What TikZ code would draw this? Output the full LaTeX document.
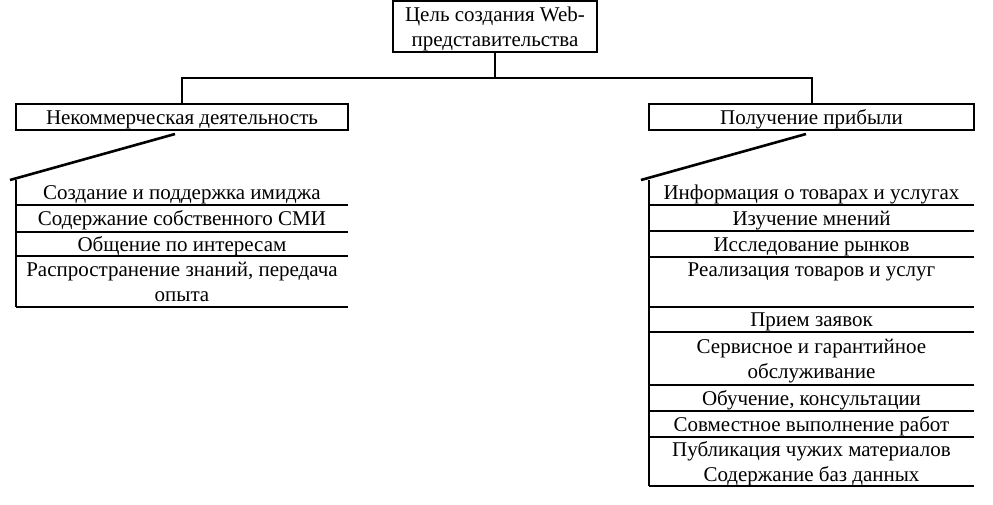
\documentclass[tikz,border=0pt]{standalone}
\usepackage{fontspec}
\setmainfont{Liberation Serif}
\begin{document}
\begin{tikzpicture}[x=1pt,y=-1pt,
  every node/.style={inner sep=0pt,outer sep=0pt,font=\fontsize{21}{25}\selectfont},
  boxnode/.style={draw,line width=2pt,align=center},
  itemnode/.style={anchor=north,align=center,inner sep=0pt},
  oneline/.style={text height=14pt,text depth=0pt},
  twoline/.style={text height=44pt,text depth=5pt},
  rule/.style={line width=2pt},
  slant/.style={line width=2.6pt}]
\useasboundingbox (0,0) rectangle (993,504);
% top
\node[boxnode,twoline,minimum width=204,minimum height=51] (top) at (495,26.5) {Цель создания Web-\\представительства};
\node[boxnode,oneline,minimum width=332,minimum height=26] (left) at (182,117) {Некоммерческая деятельность};
\node[boxnode,oneline,minimum width=325,minimum height=26] (right) at (811.5,117) {Получение прибыли};
\coordinate (bus) at (495,78);
\draw[rule] (top.south) -- (bus);
\draw[rule] (left.north) |- (bus) -| (right.north);
% left list
\node[itemnode,oneline,minimum width=332,minimum height=25] (L1) at (182,180) {Создание и поддержка имиджа};
\node[itemnode,oneline,minimum width=332,minimum height=27] (L2) at (182,205) {Содержание собственного СМИ};
\node[itemnode,oneline,minimum width=332,minimum height=24] (L3) at (182,232) {Общение по интересам};
\node[itemnode,twoline,minimum width=332,minimum height=51] (L4) at (182,256) {Распространение знаний, передача\\опыта};
% right list
\node[itemnode,oneline,minimum width=325,minimum height=25] (R1) at (811.5,180) {Информация о товарах и услугах};
\node[itemnode,oneline,minimum width=325,minimum height=26] (R2) at (811.5,205) {Изучение мнений};
\node[itemnode,oneline,minimum width=325,minimum height=26] (R3) at (811.5,231) {Исследование рынков};
\node[itemnode,twoline,minimum width=325,minimum height=50] (R4) at (811.5,257) {Реализация товаров и услуг\\\phantom{у}};
\node[itemnode,oneline,minimum width=325,minimum height=25] (R5) at (811.5,307) {Прием заявок};
\node[itemnode,twoline,minimum width=325,minimum height=53] (R6) at (811.5,332) {Сервисное и гарантийное\\обслуживание};
\node[itemnode,oneline,minimum width=325,minimum height=26] (R7) at (811.5,385) {Обучение, консультации};
\node[itemnode,oneline,minimum width=325,minimum height=26] (R8) at (811.5,411) {Совместное выполнение работ};
\node[itemnode,twoline,minimum width=325,minimum height=49] (R9) at (811.5,437) {Публикация чужих материалов\\Содержание баз данных};
% slanted connectors
\coordinate (ls) at (175,134);
\coordinate (le) at (10,180);
\coordinate (rs) at (806,134);
\coordinate (re) at (641,180);
\draw[slant] (ls) -- (le);
\draw[slant] (rs) -- (re);
% list rules
\draw[rule] (L1.north west) -- (L4.south west);
\foreach \n in {L1,L2,L3,L4} \draw[rule] (\n.south west) -- (\n.south east);
\draw[rule] (R1.north west) -- (R9.south west);
\foreach \n in {R1,R2,R3,R4,R5,R6,R7,R8,R9} \draw[rule] (\n.south west) -- (\n.south east);
\end{tikzpicture}
\end{document}
